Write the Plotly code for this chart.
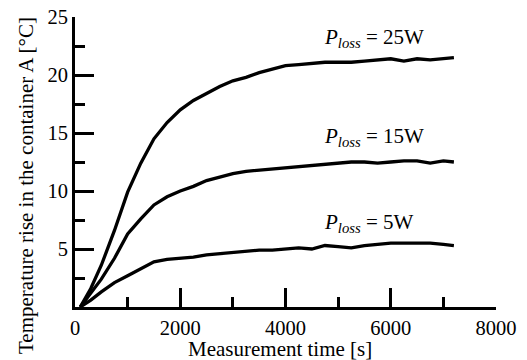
import plotly.graph_objects as go

time_s = [100, 300, 500, 750, 1000, 1250, 1500, 1750, 2000, 2250, 2500, 2750, 3000, 3250,
          3500, 3750, 4000, 4250, 4500, 4750, 5000, 5250, 5500, 5750, 6000, 6250, 6500,
          6750, 7000, 7200]
rise_25w = [0, 1.6, 3.6, 6.6, 9.9, 12.4, 14.5, 15.9, 17.0, 17.8, 18.4, 19.0, 19.5, 19.8,
            20.2, 20.5, 20.8, 20.9, 21.0, 21.1, 21.1, 21.1, 21.2, 21.3, 21.4, 21.2, 21.4,
            21.3, 21.4, 21.5]
rise_15w = [0, 1.2, 2.4, 4.2, 6.3, 7.6, 8.8, 9.5, 10.0, 10.4, 10.9, 11.2, 11.5, 11.7,
            11.8, 11.9, 12.0, 12.1, 12.2, 12.3, 12.4, 12.5, 12.5, 12.4, 12.5, 12.6, 12.6,
            12.4, 12.6, 12.5]
rise_5w = [0, 0.6, 1.3, 2.1, 2.7, 3.3, 3.9, 4.1, 4.2, 4.3, 4.5, 4.6, 4.7, 4.8,
           4.9, 4.9, 5.0, 5.1, 5.0, 5.3, 5.2, 5.1, 5.3, 5.4, 5.5, 5.5, 5.5, 5.5, 5.4, 5.3]

series = [("25W", rise_25w, 23.2), ("15W", rise_15w, 14.65), ("5W", rise_5w, 7.25)]
label_x = 4700

FONT = "Liberation Serif, Times New Roman, serif"
TICK_SIZE = 20.5
TEXT_SIZE = 21

fig = go.Figure()
for name, vals, _ in series:
    fig.add_trace(go.Scatter(x=time_s, y=vals, mode="lines",
                             line=dict(color="black", width=3.3), showlegend=False))

annotations = []
for name, _, ly in series:
    annotations.append(dict(x=label_x, y=ly, xref="x", yref="y", xanchor="left", yanchor="middle",
                            text="<i>P</i><sub><i>loss</i></sub> = " + name, showarrow=False,
                            font=dict(family=FONT, size=TEXT_SIZE, color="black")))

W, H = 527, 360
L, R, T, B = 75, 31, 17, 53
pw, ph = W - L - R, H - T - B

def px_to_paper(px, py):
    return (px - L) / pw, (H - B - py) / ph

ax, ay = px_to_paper(280, 349)
annotations.append(dict(x=ax, y=ay, xref="paper", yref="paper", xanchor="center", yanchor="middle",
                        text="Measurement time [s]",
                        showarrow=False, font=dict(family=FONT, size=TEXT_SIZE, color="black")))
ax, ay = px_to_paper(26, 186)
annotations.append(dict(x=ax, y=ay, xref="paper", yref="paper", xanchor="center", yanchor="middle",
                        text="Temperature rise in the container A [°C]",
                        showarrow=False, textangle=-90, font=dict(family=FONT, size=TEXT_SIZE, color="black")))

fig.update_layout(
    width=W, height=H,
    margin=dict(l=L, r=R, t=T, b=B, autoexpand=False),
    paper_bgcolor="white", plot_bgcolor="white",
    font=dict(family=FONT, size=TICK_SIZE, color="black"),
    annotations=annotations,
    xaxis=dict(range=[0, 8000], tickmode="linear", tick0=0, dtick=2000, ticks="inside",
               ticklen=19, tickwidth=3, tickcolor="black", showline=True, linewidth=3,
               linecolor="black", showgrid=False, zeroline=False, automargin=False,
               tickfont=dict(family=FONT, size=TICK_SIZE, color="black"),
               minor=dict(tick0=0, dtick=1000, ticks="inside", ticklen=10, tickwidth=3,
                          tickcolor="black", showgrid=False)),
    yaxis=dict(range=[0, 25], tickmode="linear", tick0=0, dtick=5, ticks="inside",
               ticklen=19, tickwidth=3, tickcolor="black", showline=True, linewidth=3,
               linecolor="black", showgrid=False, zeroline=False, automargin=False,
               labelalias={"0": " "},
               tickfont=dict(family=FONT, size=TICK_SIZE, color="black"),
               minor=dict(tick0=0, dtick=2.5, ticks="inside", ticklen=10, tickwidth=3,
                          tickcolor="black", showgrid=False)),
)

fig.write_html("out.html", config={"displayModeBar": False},
               post_script="document.body.style.margin='0';")
